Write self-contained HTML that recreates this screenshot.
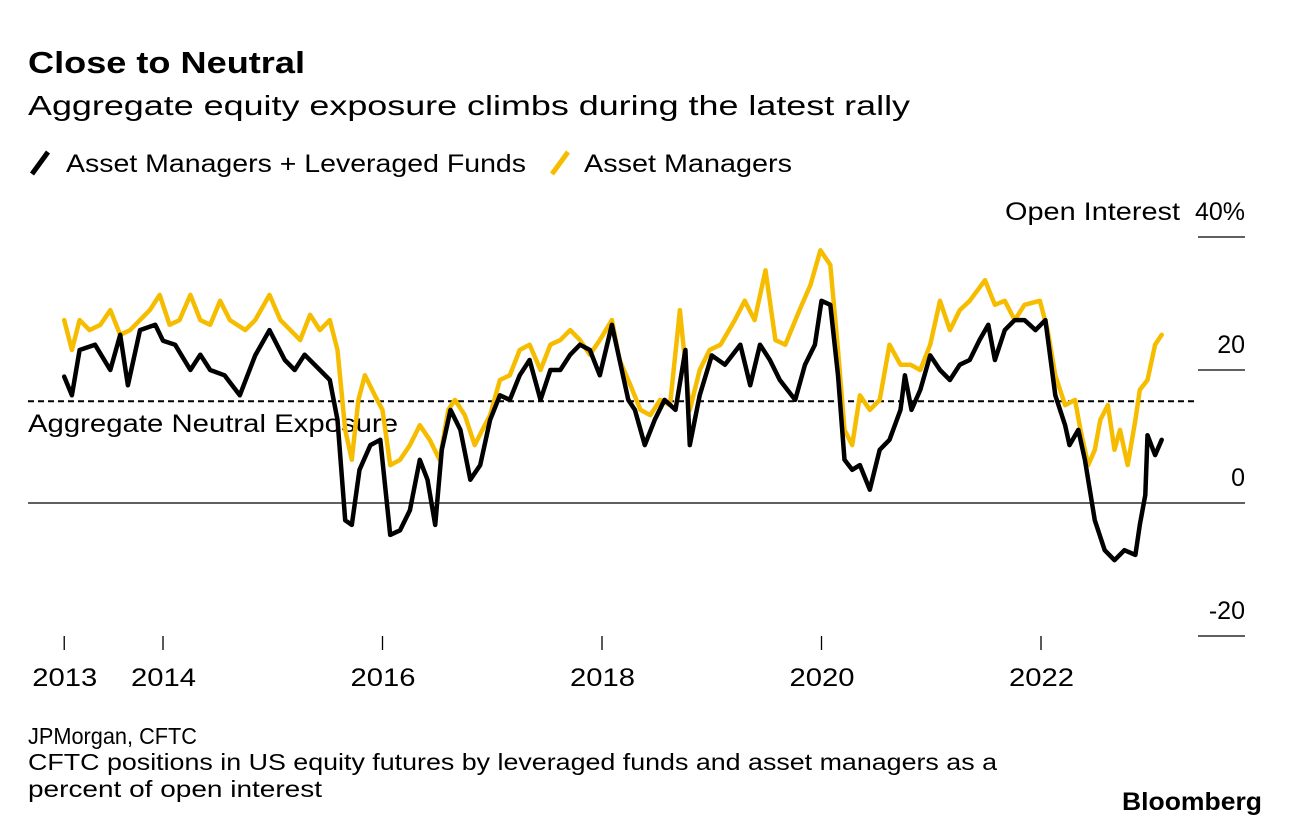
<!DOCTYPE html>
<html><head><meta charset="utf-8">
<style>
html,body{margin:0;padding:0;background:#fff;}
svg text{font-family:"Liberation Sans",sans-serif;fill:#000;}
</style></head>
<body>
<svg id="chart" width="1289" height="828" viewBox="0 0 1289 828" xmlns="http://www.w3.org/2000/svg">
<text x="28" y="73" font-size="31" font-weight="bold" textLength="277" lengthAdjust="spacingAndGlyphs">Close to Neutral</text>
<text x="28" y="115" font-size="28" textLength="882" lengthAdjust="spacingAndGlyphs">Aggregate equity exposure climbs during the latest rally</text>
<g>
<line x1="32" y1="174" x2="48" y2="152" stroke="#000" stroke-width="5"/>
<text x="66" y="172" font-size="25" textLength="460" lengthAdjust="spacingAndGlyphs">Asset Managers + Leveraged Funds</text>
<line x1="552" y1="174" x2="568" y2="152" stroke="#f6bd00" stroke-width="5"/>
<text x="584" y="172" font-size="25" textLength="208" lengthAdjust="spacingAndGlyphs">Asset Managers</text>
</g>
<g id="axes"></g>
<g id="series"></g>
<text x="28" y="744" font-size="23" textLength="169" lengthAdjust="spacingAndGlyphs">JPMorgan, CFTC</text>
<text x="28" y="770" font-size="23" textLength="969" lengthAdjust="spacingAndGlyphs">CFTC positions in US equity futures by leveraged funds and asset managers as a</text>
<text x="28" y="797" font-size="23" textLength="294" lengthAdjust="spacingAndGlyphs">percent of open interest</text>
<text x="1122" y="810" font-size="25" font-weight="bold" textLength="140" lengthAdjust="spacingAndGlyphs">Bloomberg</text>
</svg>
<script>
const yTicks = [40, 20, 0, -20];
const yTickLabels = ["40%", "20", "0", "-20"];
const xTickYears = [2013.1, 2014, 2016, 2018, 2020, 2022];
const xTickLabels = ["2013", "2014", "2016", "2018", "2020", "2022"];
const neutralLevel = 15.3;
const blackDates = [2013.10,2013.17,2013.24,2013.38,2013.52,2013.61,2013.68,2013.79,2013.93,2014.00,2014.11,2014.25,2014.34,2014.43,2014.56,2014.70,2014.84,2014.97,2015.11,2015.20,2015.29,2015.43,2015.52,2015.59,2015.66,2015.72,2015.79,2015.89,2015.98,2016.07,2016.16,2016.25,2016.34,2016.41,2016.48,2016.54,2016.62,2016.71,2016.80,2016.89,2016.98,2017.07,2017.16,2017.25,2017.34,2017.44,2017.53,2017.62,2017.71,2017.80,2017.89,2017.98,2018.09,2018.16,2018.24,2018.30,2018.39,2018.48,2018.57,2018.67,2018.76,2018.80,2018.89,2019.00,2019.12,2019.26,2019.35,2019.44,2019.53,2019.62,2019.76,2019.85,2019.94,2020.00,2020.08,2020.15,2020.21,2020.28,2020.35,2020.44,2020.53,2020.62,2020.72,2020.76,2020.82,2020.90,2020.99,2021.08,2021.17,2021.26,2021.35,2021.44,2021.52,2021.58,2021.67,2021.76,2021.85,2021.95,2022.04,2022.13,2022.22,2022.26,2022.34,2022.40,2022.49,2022.58,2022.67,2022.76,2022.86,2022.90,2022.95,2022.97,2023.04,2023.10];
const blackValues = [19.0,16.2,23.0,23.8,20.0,25.3,17.7,26.0,26.8,24.4,23.8,20.0,22.3,20.0,19.2,16.2,22.2,26.0,21.5,20.0,22.3,20.0,18.5,12.5,-2.6,-3.3,5.0,8.7,9.5,-4.8,-4.1,-1.1,6.5,3.5,-3.3,8.0,14.0,11.0,3.5,5.7,12.5,16.2,15.5,19.2,21.5,15.5,20.0,20.0,22.3,23.8,23.0,19.2,26.8,21.5,15.5,14.0,8.7,12.5,15.5,14.0,23.0,8.7,16.2,22.2,20.8,23.8,17.7,23.8,21.5,18.5,15.5,20.8,23.8,30.4,29.8,19.2,6.5,5.0,5.7,2.0,8.0,9.5,14.0,19.2,14.0,17.0,22.2,20.0,18.5,20.8,21.5,24.5,26.8,21.5,26.0,27.5,27.5,26.0,27.5,16.2,11.7,8.7,11.0,6.5,-2.6,-7.1,-8.6,-7.1,-7.8,-3.3,1.2,10.2,7.2,9.5];
const yellowDates = [2013.10,2013.17,2013.24,2013.33,2013.43,2013.52,2013.61,2013.70,2013.79,2013.88,2013.97,2014.06,2014.15,2014.25,2014.34,2014.43,2014.52,2014.61,2014.75,2014.84,2014.97,2015.07,2015.16,2015.25,2015.34,2015.43,2015.52,2015.59,2015.66,2015.72,2015.78,2015.84,2015.93,2016.00,2016.07,2016.16,2016.25,2016.34,2016.43,2016.52,2016.60,2016.66,2016.75,2016.84,2016.91,2016.98,2017.07,2017.16,2017.25,2017.34,2017.44,2017.53,2017.62,2017.71,2017.80,2017.89,2017.98,2018.09,2018.16,2018.26,2018.35,2018.44,2018.53,2018.62,2018.71,2018.80,2018.89,2018.98,2019.08,2019.21,2019.30,2019.39,2019.49,2019.58,2019.67,2019.80,2019.90,2019.99,2020.08,2020.15,2020.21,2020.28,2020.35,2020.44,2020.53,2020.62,2020.72,2020.81,2020.90,2020.99,2021.08,2021.17,2021.26,2021.35,2021.49,2021.58,2021.67,2021.76,2021.85,2021.99,2022.06,2022.13,2022.22,2022.31,2022.36,2022.43,2022.49,2022.54,2022.61,2022.67,2022.72,2022.79,2022.86,2022.90,2022.97,2023.04,2023.10];
const yellowValues = [27.5,23.0,27.5,26.0,26.8,29.0,25.3,26.0,27.5,29.0,31.3,26.8,27.5,31.3,27.5,26.8,30.4,27.5,26.0,27.5,31.3,27.5,26.0,24.5,28.3,26.0,27.5,23.0,11.0,6.5,15.5,19.2,16.2,14.0,5.7,6.5,8.7,11.7,9.5,6.5,14.0,15.5,13.2,8.7,11.0,13.2,18.5,19.2,23.0,23.8,20.0,23.8,24.5,26.0,24.5,22.3,24.5,27.5,21.5,17.7,14.0,13.2,15.5,14.7,29.0,14.0,20.0,23.0,23.8,27.5,30.4,27.5,35.0,24.5,23.8,29.0,32.8,38.0,35.8,23.0,11.0,8.7,16.2,14.0,15.5,23.8,20.8,20.8,20.0,23.8,30.4,26.0,29.0,30.4,33.5,29.8,30.4,27.5,29.8,30.4,26.0,19.2,14.7,15.5,11.0,5.7,8.0,12.5,14.7,8.0,11.0,5.7,12.5,17.0,18.5,23.8,25.3];

const NS = "http://www.w3.org/2000/svg";
const xs = y => 163 + (y - 2014) * 109.75;
const ys = v => 503 - v * 6.65;
function mk(tag, attrs, parent){ const e=document.createElementNS(NS,tag); for(const k in attrs) e.setAttribute(k,attrs[k]); parent.appendChild(e); return e; }
const axes = document.getElementById('axes');
const series = document.getElementById('series');

yTicks.forEach((t,i)=>{
  const yy = ys(t);
  if (t === 0) {
    const l = mk('line',{x1:28,x2:1245,y1:yy,y2:yy,stroke:'#000','stroke-width':1.3},axes);
    
    
  } else {
    const l = mk('line',{x1:1198,x2:1245,y1:yy,y2:yy,stroke:'#000','stroke-width':1.3},axes);
    
    
  }
  const tx = mk('text',{x:1245,y:yy-17,'font-size':25,'text-anchor':'end'},axes);
  tx.textContent = yTickLabels[i];
  
  
});
const oi = mk('text',{x:1005,y:ys(40)-17,'font-size':25,textLength:175,lengthAdjust:'spacingAndGlyphs'},axes);
oi.textContent = 'Open Interest';



xTickYears.forEach((yr,i)=>{
  const xx = xs(yr);
  const l = mk('line',{x1:xx,x2:xx,y1:636,y2:650,stroke:'#000','stroke-width':1.3},axes);
  
  
  const tx = mk('text',{x:xx-32,y:686,'font-size':25,textLength:65,lengthAdjust:'spacingAndGlyphs'},axes);
  tx.textContent = xTickLabels[i];
  
  
});

const nd = mk('line',{x1:28,x2:1198,y1:ys(neutralLevel),y2:ys(neutralLevel),stroke:'#000','stroke-width':2,'stroke-dasharray':'6,4'},axes);


const nl = mk('text',{x:28,y:432,'font-size':25,textLength:370,lengthAdjust:'spacingAndGlyphs'},axes);
nl.textContent = 'Aggregate Neutral Exposure';



function line(dates, vals, color, name){
  const d = dates.map((t,i)=>(i?'L':'M')+xs(t).toFixed(1)+','+ys(vals[i]).toFixed(1)).join('');
  const p = mk('path',{d:d,fill:'none',stroke:color,'stroke-width':4.5,'stroke-linejoin':'round','stroke-linecap':'round'},series);
  
  
}
line(yellowDates, yellowValues, '#f6bd00', 'asset-managers-line');
line(blackDates, blackValues, '#000', 'combined-line');
</script>
</body></html>
